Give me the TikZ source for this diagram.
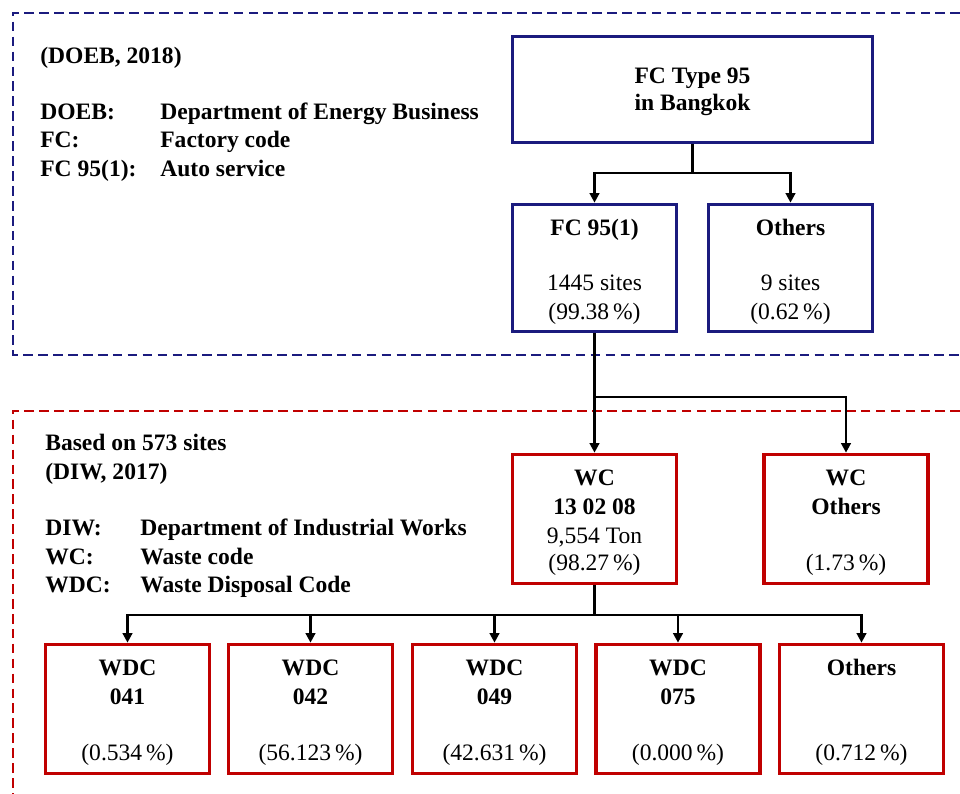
\documentclass[tikz,border=0pt]{standalone}
\usepackage{fontspec}
\setmainfont{Liberation Serif}
\usetikzlibrary{arrows.meta}
\definecolor{navyline}{HTML}{1B1B7E}
\definecolor{boxred}{HTML}{C00000}
\begin{document}
\begin{tikzpicture}[x=0.02cm,y=-0.02cm,
  bluebox/.style={draw=navyline,line width=2.1pt,rectangle,inner sep=0pt},
  redbox/.style={draw=boxred,line width=2.1pt,rectangle,inner sep=0pt},
  smallbox/.style={minimum width=3.28cm,minimum height=2.58cm},
  txt/.style={font=\fontsize{13.4}{15}\selectfont,anchor=base,inner sep=0pt},
  btxt/.style={font=\fontsize{13.4}{15}\selectfont\bfseries,anchor=base,inner sep=0pt},
  ltxt/.style={btxt,anchor=base west},
  link/.style={line width=1.5pt,black},
  arrow/.style={link,-{Triangle[width=5.5pt,length=5.5pt]}},
  frame/.style={line width=0.9pt,dash pattern=on 5.5pt off 3pt}
]
\useasboundingbox (0,0) rectangle (960,794);
\clip (0,0) rectangle (960,794);

% section frames (open on the right and bottom)
\draw[frame,navyline] (975,13) -- (13,13) -- (13,355) -- (975,355);
\draw[frame,boxred] (975,411) -- (13,411) -- (13,810);

% --- upper section: legend
\node[ltxt] (doebsrc) at (40,64) {(DOEB, 2018)};
\node[ltxt] (k1) at (40,119) {DOEB:};
\node[ltxt] (v1) at (160,119) {Department of Energy Business};
\node[ltxt] (k2) at (40,148) {FC:};
\node[ltxt] (v2) at (160,148) {Factory code};
\node[ltxt] (k3) at (40,176) {FC 95(1):};
\node[ltxt] (v3) at (160,176) {Auto service};

% --- upper section: boxes
\node[bluebox,minimum width=7.2cm,minimum height=2.12cm] (top) at (692.5,89.5) {};
\node[btxt] (topa) at (692.5,84) {FC Type 95};
\node[btxt] (topb) at (692.5,111) {in Bangkok};

\node[bluebox,minimum width=3.28cm,minimum height=2.54cm] (fc1) at (594.5,268) {};
\node[btxt] (fc1a) at (594.5,235) {FC 95(1)};
\node[txt] (fc1b) at (594.5,290) {1445 sites};
\node[txt] (fc1c) at (594.5,319) {(99.38\,\%)};

\node[bluebox,minimum width=3.28cm,minimum height=2.54cm] (oth1) at (790.5,268) {};
\node[btxt] (oth1a) at (790.5,235) {Others};
\node[txt] (oth1b) at (790.5,290) {9 sites};
\node[txt] (oth1c) at (790.5,319) {(0.62\,\%)};

\coordinate (j1) at (692.5,173);
\draw[link] (top.south) -- (j1);
\draw[arrow] (j1) -| (fc1.north);
\draw[arrow] (j1) -| (oth1.north);

% --- lower section: legend
\node[ltxt] (diwsrc1) at (45,450) {Based on 573 sites};
\node[ltxt] (diwsrc2) at (45,479) {(DIW, 2017)};
\node[ltxt] (k4) at (45,535) {DIW:};
\node[ltxt] (v4) at (140,535) {Department of Industrial Works};
\node[ltxt] (k5) at (45,564) {WC:};
\node[ltxt] (v5) at (140,564) {Waste code};
\node[ltxt] (k6) at (45,592) {WDC:};
\node[ltxt] (v6) at (140,592) {Waste Disposal Code};

% --- lower section: waste code boxes
\node[redbox,smallbox] (wc1) at (594.5,519) {};
\node[btxt] (wc1a) at (594.5,485) {WC};
\node[btxt] (wc1b) at (594.5,514) {13 02 08};
\node[txt] (wc1c) at (594.5,543) {9,554 Ton};
\node[txt] (wc1d) at (594.5,570) {(98.27\,\%)};

\node[redbox,smallbox] (wc2) at (846,519) {};
\node[btxt] (wc2a) at (846,485) {WC};
\node[btxt] (wc2b) at (846,514) {Others};
\node[txt] (wc2d) at (846,570) {(1.73\,\%)};

\coordinate (j2) at (594.5,397);
\draw[link] (fc1.south) -- (j2);
\draw[arrow] (j2) -- (wc1.north);
\draw[arrow] (j2) -| (wc2.north);

% --- lower section: disposal code boxes
\node[redbox,smallbox] (d1) at (127.5,709) {};
\node[btxt] (d1a) at (127.5,675) {WDC};
\node[btxt] (d1b) at (127.5,704) {041};
\node[txt] (d1c) at (127.5,760) {(0.534\,\%)};

\node[redbox,smallbox] (d2) at (310.5,709) {};
\node[btxt] (d2a) at (310.5,675) {WDC};
\node[btxt] (d2b) at (310.5,704) {042};
\node[txt] (d2c) at (310.5,760) {(56.123\,\%)};

\node[redbox,smallbox] (d3) at (494.5,709) {};
\node[btxt] (d3a) at (494.5,675) {WDC};
\node[btxt] (d3b) at (494.5,704) {049};
\node[txt] (d3c) at (494.5,760) {(42.631\,\%)};

\node[redbox,smallbox] (d4) at (678,709) {};
\node[btxt] (d4a) at (678,675) {WDC};
\node[btxt] (d4b) at (678,704) {075};
\node[txt] (d4c) at (678,760) {(0.000\,\%)};

\node[redbox,smallbox] (d5) at (861.5,709) {};
\node[btxt] (d5a) at (861.5,675) {Others};
\node[txt] (d5c) at (861.5,760) {(0.712\,\%)};

\coordinate (j3) at (594.5,615);
\draw[link] (wc1.south) -- (j3);
\foreach \d in {d1,d2,d3,d4,d5}
  \draw[arrow] (j3) -| (\d.north);
\end{tikzpicture}
\end{document}
